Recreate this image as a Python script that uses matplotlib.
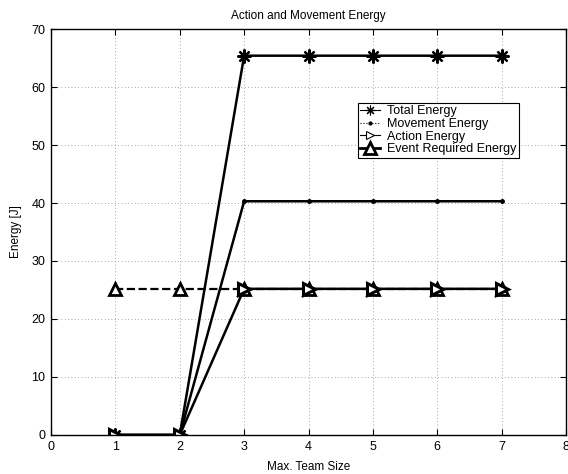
import matplotlib.pyplot as plt
from matplotlib.lines import Line2D

plt.rcParams['font.family'] = ['Liberation Sans', 'DejaVu Sans']
plt.rcParams['font.size'] = 9

team_size = [1, 2, 3, 4, 5, 6, 7]
total_energy = [0, 0, 65.4, 65.4, 65.4, 65.4, 65.4]
movement_energy = [0, 0, 40.3, 40.3, 40.3, 40.3, 40.3]
action_energy = [0, 0, 25.2, 25.2, 25.2, 25.2, 25.2]
event_required = [25.2, 25.2, 25.2, 25.2, 25.2, 25.2, 25.2]

asterisk = (8, 2, 0)

fig = plt.figure(figsize=(5.68, 4.74), dpi=100)
ax = fig.add_axes([0.0898, 0.0823, 0.9067, 0.8565])

ax.plot(team_size, event_required, color='black', linestyle='--', lw=1.6,
        marker='^', markersize=9, markerfacecolor='white', markeredgewidth=2)
ax.plot(team_size, total_energy, color='black', lw=1.8,
        marker=asterisk, markersize=10, markeredgewidth=1.6)
ax.plot(team_size, movement_energy, color='black', lw=1.8,
        marker='.', markersize=5)
ax.plot(team_size, action_energy, color='black', lw=1.8,
        marker='>', markersize=8, markerfacecolor='white', markeredgewidth=2.2)

ax.set_xlim(0, 8)
ax.set_ylim(0, 70)
ax.set_xticks(range(0, 9))
ax.set_yticks(range(0, 71, 10))
ax.grid(True, linestyle=(0, (1, 3)), color='#888888', lw=0.6)
ax.tick_params(direction='in', top=True, right=True, length=4, pad=4)
for s in ax.spines.values():
    s.set_linewidth(1.0)

ax.set_title('Action and Movement Energy', fontsize=8.5, pad=7)
ax.set_xlabel('Max. Team Size', fontsize=8.5, labelpad=6)
ax.set_ylabel('Energy [J]', fontsize=8.5, labelpad=7)

# thin legend keys, thick event-required key
handles = [
    Line2D([], [], color='black', lw=0.8, marker=asterisk, markersize=7, markeredgewidth=0.8),
    Line2D([], [], color='black', lw=0.8, linestyle=':', marker='.', markersize=4),
    Line2D([], [], color='black', lw=0.8, marker='>', markersize=6, markerfacecolor='white',
           markeredgewidth=0.8),
    Line2D([], [], color='black', lw=2, marker='^', markersize=9, markerfacecolor='white',
           markeredgewidth=2),
]
labels = ['Total Energy', 'Movement Energy', 'Action Energy', 'Event Required Energy']
leg = ax.legend(handles, labels, loc='upper left', bbox_to_anchor=(0.596, 0.818),
                fancybox=False, edgecolor='black', framealpha=1, handlelength=1.6,
                handletextpad=0.5, labelspacing=0.05, borderpad=0.2, borderaxespad=0,
                fontsize=9)
leg.get_frame().set_linewidth(0.8)

fig.savefig('out.png', dpi=100)
